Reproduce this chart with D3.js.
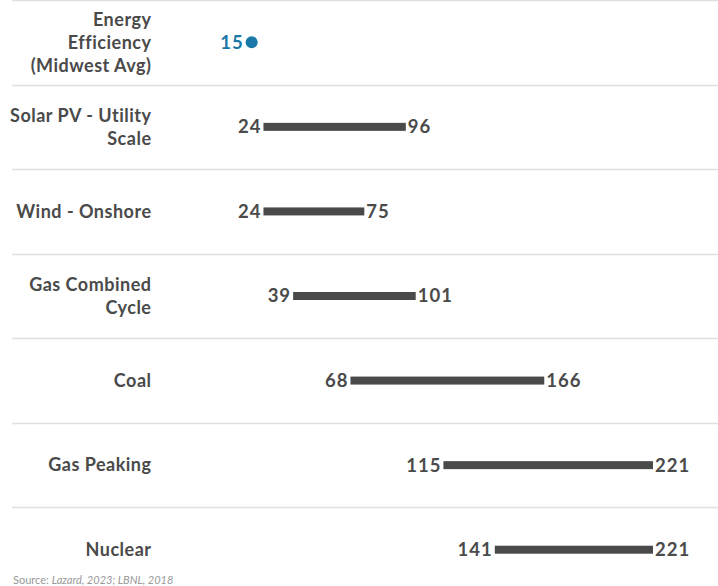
<!DOCTYPE html>
<html><head><meta charset="utf-8">
<script src="https://cdn.jsdelivr.net/npm/d3@7"></script>
<style>body{margin:0;background:#fff}svg{display:block}</style>
</head><body>
<svg id="chart" width="718" height="586"></svg>
<script>
const categories = [["Energy","Efficiency","(Midwest Avg)"],["Solar PV - Utility","Scale"],["Wind - Onshore"],["Gas Combined","Cycle"],["Coal"],["Gas Peaking"],["Nuclear"]];
const lowValues = [15, 24, 24, 39, 68, 115, 141];
const highValues = [null, 96, 75, 101, 166, 221, 221];
const source = "Source: ";
const sourceItalic = "Lazard, 2023; LBNL, 2018";

const svg = d3.select("#chart");
const W = 718, H = 586;
const font = "Lato, 'Open Sans', sans-serif";
const textColor = "#4a4a4a";
const blue = "#1a78a8";

const y = d3.scaleBand().domain(d3.range(categories.length)).range([0, 592]).padding(0);
const x = d3.scaleLinear().domain([0, 221]).range([216, 653]);

// separators
svg.selectAll("line.sep").data(d3.range(categories.length)).join("line")
  .attr("x1", 12).attr("x2", W)
  .attr("y1", i => Math.round(y(i)) + 0.5).attr("y2", i => Math.round(y(i)) + 0.5)
  .attr("stroke", "#e0e0e0").attr("stroke-width", 1.5);

const rows = svg.selectAll("g.row").data(d3.range(categories.length)).join("g")
  .attr("transform", i => `translate(0,${y(i) + y.bandwidth()/2})`);

// category labels
rows.append("text")
  .attr("text-anchor", "end").attr("x", 151)
  .attr("font-family", font).attr("font-weight", 700).attr("font-size", 18)
  .attr("letter-spacing", 0.5)
  .attr("fill", textColor)
  .each(function(i){
    const lines = categories[i];
    const lh = 23;
    const t = d3.select(this);
    lines.forEach((l, k) => {
      t.append("tspan").attr("x", 151.5)
        .attr("y", (k - (lines.length - 1)/2) * lh)
        .attr("dy", "0.35em").text(l);
    });
  });

// bars
rows.filter(i => highValues[i] != null).append("rect")
  .attr("x", i => x(lowValues[i]))
  .attr("width", i => x(highValues[i]) - x(lowValues[i]))
  .attr("y", -4).attr("height", 8)
  .attr("fill", textColor);

// dot
const r = 6;
rows.filter(i => highValues[i] == null).append("circle")
  .attr("cx", i => x(lowValues[i]) + r).attr("cy", 0).attr("r", r)
  .attr("fill", blue);

// low labels
rows.append("text")
  .attr("x", i => x(lowValues[i]) - 2)
  .attr("text-anchor", "end").attr("dy", "0.35em")
  .attr("font-family", font).attr("font-weight", 700).attr("font-size", 18.5)
  .attr("letter-spacing", 1)
  .attr("fill", i => highValues[i] == null ? blue : textColor)
  .text(i => lowValues[i]);

// high labels
rows.filter(i => highValues[i] != null).append("text")
  .attr("x", i => x(highValues[i]) + 2)
  .attr("dy", "0.35em")
  .attr("font-family", font).attr("font-weight", 700).attr("font-size", 18.5)
  .attr("letter-spacing", 1)
  .attr("fill", textColor)
  .text(i => highValues[i]);

// source
const src = svg.append("text").attr("x", 13).attr("y", 584)
  .attr("font-family", font).attr("font-size", 11).attr("fill", "#999");
src.append("tspan").text(source);
src.append("tspan").attr("font-style", "italic").text(sourceItalic);
</script>
</body></html>
